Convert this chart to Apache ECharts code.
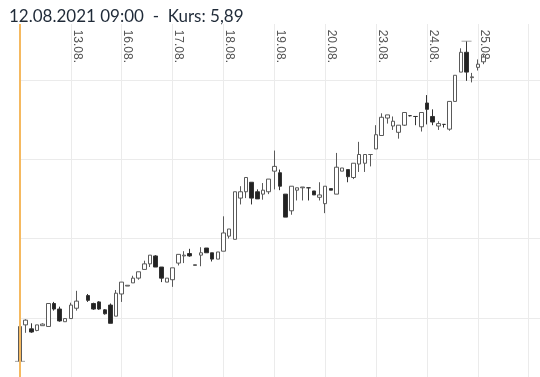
<!DOCTYPE html>
<html>
<head>
<meta charset="utf-8">
<script src="https://cdn.jsdelivr.net/npm/echarts@6/dist/echarts.min.js"></script>
<style>
    html, body { margin: 0; padding: 0; background: #fff; }
    #kurs-chart { width: 540px; height: 377px; }
</style>
</head>
<body>
<div id="kurs-chart"></div>
<script>
var titelText = '12.08.2021 09:00  -  Kurs: 5,89';
var tage = ['12.08.', '13.08.', '16.08.', '17.08.', '18.08.', '19.08.', '20.08.', '23.08.', '24.08.', '25.08.', '26.08.'];
var stunden = ['09:00', '10:00', '11:00', '12:00', '13:00', '14:00', '15:00', '16:00', '17:00'];

var openData = [5.845, 5.891, 5.886, 5.884, 5.890, 5.889, 5.918, 5.911, 5.895,
    5.899, 5.912, null, 5.928, 5.918, 5.920, 5.910, 5.916, 5.902,
    5.930, 5.940, 5.944, 5.950, 5.961, 5.968, 5.978, 5.964, 5.945,
    5.948, 5.969, 5.978, 5.981, 5.966, 5.979, 5.988, 5.982, 5.974,
    5.984, 6.003, 5.999, 6.051, 6.059, 6.071, 6.059, 6.056, 6.059,
    6.085, 6.083, 6.056, 6.035, 6.061, 6.064, 6.064, 6.060, 6.052,
    6.044, 6.063, 6.056, 6.085, 6.087, 6.077, 6.094, 6.095, 6.106,
    6.113, 6.130, 6.152, 6.142, 6.134, 6.143, 6.155, 6.154, 6.141,
    6.171, 6.154, 6.142, 6.144, 6.138, 6.173, 6.210, 6.235, 6.203,
    6.216, 6.223];
var closeData = [5.889, 5.897, 5.882, 5.891, 5.892, 5.918, 5.911, 5.896, 5.899,
    5.916, 5.921, null, 5.922, 5.911, 5.911, 5.905, 5.893, 5.931,
    5.945, 5.941, 5.950, 5.958, 5.968, 5.979, 5.964, 5.950, 5.950,
    5.963, 5.980, 5.979, 5.978, 5.967, 5.982, 5.982, 5.974, 5.983,
    6.007, 6.012, 6.059, 6.059, 6.077, 6.051, 6.050, 6.061, 6.075,
    6.091, 6.066, 6.027, 6.066, 6.064, 6.065, 6.064, 6.055, 6.055,
    6.066, 6.061, 6.090, 6.089, 6.078, 6.095, 6.106, 6.106, 6.106,
    6.131, 6.153, 6.156, 6.148, 6.143, 6.159, 6.155, 6.154, 6.159,
    6.163, 6.147, 6.145, 6.144, 6.173, 6.206, 6.235, 6.210, 6.204,
    6.220, 6.229];
var lowData = [5.845, 5.881, 5.881, 5.883, 5.890, 5.889, 5.909, 5.895, 5.895,
    5.899, 5.909, null, 5.920, 5.910, 5.910, 5.904, 5.893, 5.902,
    5.920, 5.940, 5.944, 5.948, 5.961, 5.964, 5.964, 5.945, 5.945,
    5.939, 5.966, 5.969, 5.977, 5.966, 5.965, 5.982, 5.971, 5.974,
    5.984, 6.000, 5.999, 6.043, 6.051, 6.043, 6.050, 6.049, 6.056,
    6.062, 6.061, 6.027, 6.030, 6.048, 6.048, 6.048, 6.055, 6.048,
    6.032, 6.061, 6.056, 6.085, 6.071, 6.075, 6.084, 6.084, 6.091,
    6.113, 6.130, 6.145, 6.137, 6.126, 6.142, 6.154, 6.143, 6.135,
    6.144, 6.143, 6.137, 6.140, 6.136, 6.173, 6.210, 6.199, 6.197,
    6.212, 6.220];
var highData = [5.895, 5.898, 5.893, 5.891, 5.893, 5.918, 5.920, 5.914, 5.899,
    5.919, 5.934, null, 5.930, 5.919, 5.921, 5.911, 5.918, 5.935,
    5.945, 5.941, 5.953, 5.958, 5.972, 5.979, 5.979, 5.964, 5.950,
    5.963, 5.980, 5.984, 5.987, 5.967, 5.989, 5.988, 5.982, 5.983,
    6.028, 6.012, 6.059, 6.066, 6.077, 6.071, 6.062, 6.070, 6.075,
    6.111, 6.087, 6.056, 6.066, 6.064, 6.065, 6.064, 6.060, 6.071,
    6.066, 6.063, 6.108, 6.089, 6.087, 6.095, 6.122, 6.106, 6.106,
    6.143, 6.158, 6.156, 6.154, 6.143, 6.159, 6.155, 6.154, 6.159,
    6.181, 6.163, 6.148, 6.144, 6.173, 6.206, 6.240, 6.249, 6.209,
    6.226, 6.232];

// kategorien: 9 stunden pro handelstag, 26.08. nur als rand
var kategorien = [];
for (var t = 0; t < tage.length; t++) {
    for (var s = 0; s < stunden.length; s++) {
        if (t == tage.length - 1 && s > 2) break;
        kategorien.push(tage[t] + ' ' + stunden[s]);
    }
}
var letzterTag = (tage.length - 1) * stunden.length;

var kerzen = [];
var minIdx = 0, maxIdx = 0;
for (var i = 0; i < openData.length; i++) {
    if (openData[i] == null) {
        kerzen.push('-');
        continue;
    }
    kerzen.push([openData[i], closeData[i], lowData[i], highData[i]]);
    if (lowData[i] < lowData[minIdx]) minIdx = i;
    if (highData[i] > highData[maxIdx]) maxIdx = i;
}
var extremPunkte = [
    [kategorien[minIdx], lowData[minIdx]],
    [kategorien[maxIdx], highData[maxIdx]]
];

function tagesAnfang(index) {
    return index % stunden.length === 0;
}

var dom = document.getElementById('kurs-chart');
var chart = echarts.init(dom, null, { renderer: 'canvas' });

var option = {
    animation: false,
    title: {
        text: titelText,
        left: 4,
        top: 3,
        textStyle: {
            fontFamily: 'Lato',
            fontSize: 17,
            fontWeight: 'normal',
            color: '#1f2a38'
        }
    },
    grid: {
        left: 20,
        right: 0,
        top: 24,
        bottom: -20,
        containLabel: false,
        outerBoundsMode: 'none'
    },
    xAxis: {
        type: 'category',
        position: 'top',
        offset: -41,
        data: kategorien,
        boundaryGap: false,
        axisLine: { show: false },
        axisTick: { show: false },
        axisLabel: {
            rotate: 90,
            margin: 2,
            verticalAlign: 'bottom',
            color: '#555',
            fontSize: 12,
            fontFamily: 'Liberation Sans',
            interval: function (index) {
                return tagesAnfang(index) && index > 0 && index < letzterTag;
            },
            formatter: function (value) {
                return value.split(' ')[0];
            }
        },
        splitLine: {
            show: true,
            interval: function (index) {
                return tagesAnfang(index);
            },
            lineStyle: { color: '#ebebeb', width: 1 }
        }
    },
    yAxis: {
        type: 'value',
        min: 5.8,
        max: 6.2707,
        interval: 0.1,
        axisLine: { show: false },
        axisTick: { show: false },
        axisLabel: { show: false },
        splitLine: {
            show: true,
            showMaxLine: false,
            lineStyle: { color: '#ebebeb', width: 1 }
        }
    },
    series: [
        {
            name: 'Kurs',
            type: 'candlestick',
            data: kerzen,
            barWidth: 4,
            clip: false,
            itemStyle: {
                color: '#ffffff',
                color0: '#222222',
                borderColor: '#5a5a5a',
                borderColor0: '#333333',
                borderWidth: 1
            },
            markLine: {
                silent: true,
                symbol: 'none',
                label: { show: false },
                lineStyle: { color: '#f5b960', width: 2, type: 'solid' },
                data: [{ xAxis: kategorien[0] }]
            }
        },
        {
            name: 'Extrem',
            type: 'scatter',
            data: extremPunkte,
            symbol: 'rect',
            symbolSize: [10, 1],
            silent: true,
            itemStyle: { color: '#8c8c8c' }
        }
    ]
};

chart.setOption(option);
</script>
</body>
</html>
